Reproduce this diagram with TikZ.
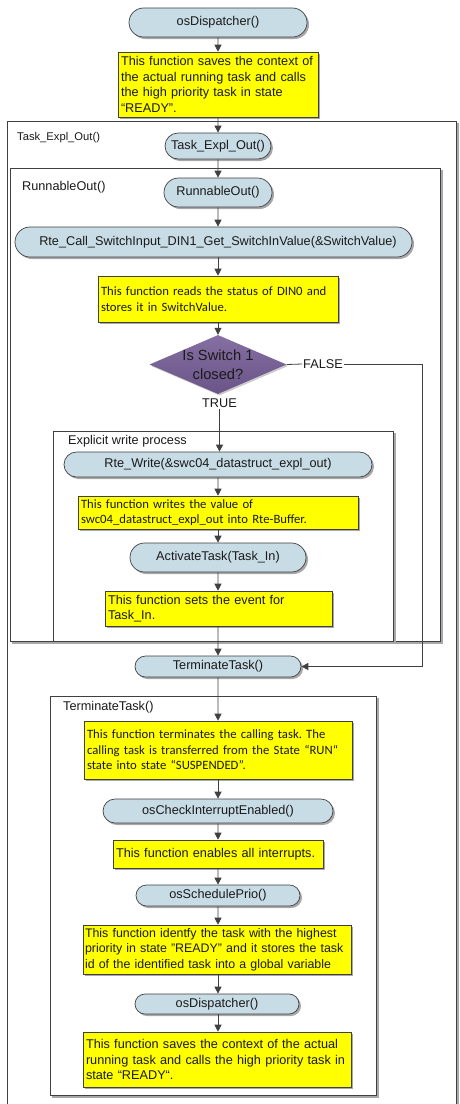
\documentclass[tikz,border=0pt]{standalone}
\usepackage{fontspec}
\setmainfont{Liberation Sans}
\newfontfamily\calfont{Carlito}
\usetikzlibrary{shapes.misc,shapes.geometric,shadows,arrows.meta}
\definecolor{nodeblue}{HTML}{C8DCE6}
\definecolor{edgec}{HTML}{404040}
\definecolor{ylw}{HTML}{FFFF00}
\definecolor{shd}{HTML}{A8A8A8}
\definecolor{purtop}{HTML}{8670A2}
\definecolor{purbot}{HTML}{6A5488}
\definecolor{txt}{HTML}{1A1A1A}
\frenchspacing
\tikzset{
  basefont/.style={font=\frenchspacing\fontsize{12.7}{15.6}\selectfont, text=txt},
  pill/.style={rounded rectangle, draw=edgec, line width=0.7pt, fill=nodeblue,
    drop shadow={shadow xshift=2pt, shadow yshift=-2pt, fill=shd, opacity=1},
    inner sep=0pt, basefont},
  note/.style={rectangle, draw=edgec, line width=0.6pt, fill=ylw,
    drop shadow={shadow xshift=2pt, shadow yshift=-2pt, fill=shd, opacity=1},
    inner xsep=3pt, inner ysep=2pt, align=left, basefont},
  calnote/.style={note, font=\frenchspacing\calfont\fontsize{12.7}{15.6}\selectfont},
  framec/.style={draw=edgec, line width=0.7pt},
  frameshd/.style={draw=shd, line width=1.2pt},
  lbl/.style={anchor=west, inner sep=0pt, basefont},
  flow/.style={draw=edgec, line width=0.8pt, -{Triangle[length=7pt,width=7pt]}},
  plain/.style={draw=edgec, line width=0.8pt}
}
\begin{document}
\begin{tikzpicture}[x=1pt,y=-1pt]
\useasboundingbox (0,0) rectangle (459,1104);
\fill[white] (0,0) rectangle (459,1104);

% ---------- frames ----------
% outer Task_Expl_Out frame (continues below the picture)
\draw[frameshd] (458,123) -- (458,1104);
\draw[framec] (7,1104) -- (7,121) -- (456,121) -- (456,1104);
% RunnableOut frame
\draw[frameshd] (12,643) -- (442,643) -- (442,170);
\draw[framec] (10,168) rectangle (440,641);
% Explicit write process frame
\draw[frameshd] (55,642) -- (395,642) -- (395,433);
\draw[framec] (53,431) rectangle (393,641);
% TerminateTask frame
\draw[frameshd] (52,1097) -- (378,1097) -- (378,698);
\draw[framec] (50,696) rectangle (376,1095);

% ---------- frame labels ----------
\node[lbl, font=\fontsize{11.2}{13}\selectfont] (lblTask) at (17,138) {Task\_Expl\_Out()};
\node[lbl] (lblRun) at (22,187) {RunnableOut()};
\node[lbl] (lblExp) at (68,441) {Explicit write process};
\node[lbl] (lblTerm) at (63,707) {TerminateTask()};

% ---------- nodes ----------
\node[pill, minimum width=178, minimum height=29] (disp1) at (218,22.5) {osDispatcher()};
\node[note, text width=194, minimum height=65] (y1) at (218,84.5)
  {This function saves the context of\\the actual running task and calls\\the high priority task in state\\“READY”.};
\node[pill, minimum width=106, minimum height=26] (task) at (218,146) {Task\_Expl\_Out()};
\node[pill, minimum width=108, minimum height=29] (run) at (218,192.5) {RunnableOut()};
\node[pill, minimum width=397, minimum height=30] (rte) at (213.5,242)
  {\hspace{9pt}Rte\_Call\_SwitchInput\_DIN1\_Get\_SwitchInValue(\&SwitchValue)};
\node[calnote, text width=234, minimum height=46] (y2) at (218,299)
  {This function reads the status of DIN0 and\\stores it in SwitchValue.};
\node[diamond, minimum width=137, minimum height=59, inner sep=0pt,
  top color=purtop, bottom color=purbot,
  drop shadow={shadow xshift=1.5pt, shadow yshift=-1.5pt, fill=shd, opacity=0.6}] (dia) at (218,364.5) {};
\node[align=center, inner sep=0pt, text=txt, font=\fontsize{14.7}{19}\selectfont] (diatext) at (dia.center) {Is Switch 1\\closed?};
\node[basefont, inner sep=1pt] (falselbl) at (323,364) {FALSE};
\node[basefont, inner sep=1pt] (truelbl) at (219.5,403) {TRUE};
\coordinate (fc1) at (422,364);
\coordinate (fc2) at (422,666.5);

\node[pill, minimum width=308, minimum height=25] (rw) at (218,464.5) {Rte\_Write(\&swc04\_datastruct\_expl\_out)};
\node[calnote, text width=274, minimum height=33] (y3) at (218,512.5)
  {This function writes the value of\\swc04\_datastruct\_expl\_out into Rte-Buffer.};
\node[pill, minimum width=176, minimum height=29] (act) at (218,557.5) {ActivateTask(Task\_In)};
\node[note, text width=221, minimum height=35] (y4) at (218.5,608.5)
  {This function sets the event for\\Task\_In.};
\node[pill, minimum width=166, minimum height=21] (term) at (218,666.5) {TerminateTask()};

\node[calnote, text width=262, minimum height=58] (y5) at (218,750)
  {This function terminates the calling task. The\\calling task is transferred from the State “RUN“\\state into state “SUSPENDED”.};
\node[pill, minimum width=230, minimum height=24] (chk) at (218,811) {osCheckInterruptEnabled()};
\node[note, text width=204, minimum height=28] (y6) at (218,854) {This function enables all interrupts.};
\node[pill, minimum width=164, minimum height=21] (sched) at (218,895.5) {osSchedulePrio()};
\node[note, text width=264, inner xsep=2pt, minimum height=49,
  font=\frenchspacing\fontsize{12.4}{15.6}\selectfont] (y7) at (217,949.5)
  {This function identfy the task with the highest\\priority in state "READY" and it stores the task\\id of the identified task into a global variable};
\node[pill, minimum width=164, minimum height=20] (disp2) at (217,1004) {osDispatcher()};
\node[note, text width=262, minimum height=55] (y8) at (217,1059.5)
  {This function saves the context of the actual\\running task and calls the high priority task in\\state “READY“.};

% ---------- connectors ----------
\draw[flow] (disp1) -- (y1);
\draw[flow] (y1) -- (task);
\draw[flow] (task) -- (run);
\draw[flow] (run) -- (run |- rte.north);
\draw[flow] (run |- rte.south) -- (y2);
\draw[flow] (y2) -- (dia);
\draw[plain] (dia.east) -- (falselbl.west);
\draw[flow] (falselbl.east) -- (fc1) -- (fc2) -- (term.east);
\draw[flow] (truelbl.south) -- (rw.north -| truelbl.south);
\draw[flow] (rw) -- (y3);
\draw[flow] (y3) -- (act);
\draw[flow] (act) -- (act |- y4.north);
\draw[flow] (act |- y4.south) -- (term);
\draw[flow] (term) -- (y5);
\draw[flow] (y5) -- (chk);
\draw[flow] (chk) -- (y6);
\draw[flow] (y6) -- (sched);
\draw[flow] (sched) -- (sched |- y7.north);
\draw[flow] (sched |- y7.south) -- (sched |- disp2.north);
\draw[flow] (sched |- disp2.south) -- (sched |- y8.north);
\end{tikzpicture}
\end{document}
